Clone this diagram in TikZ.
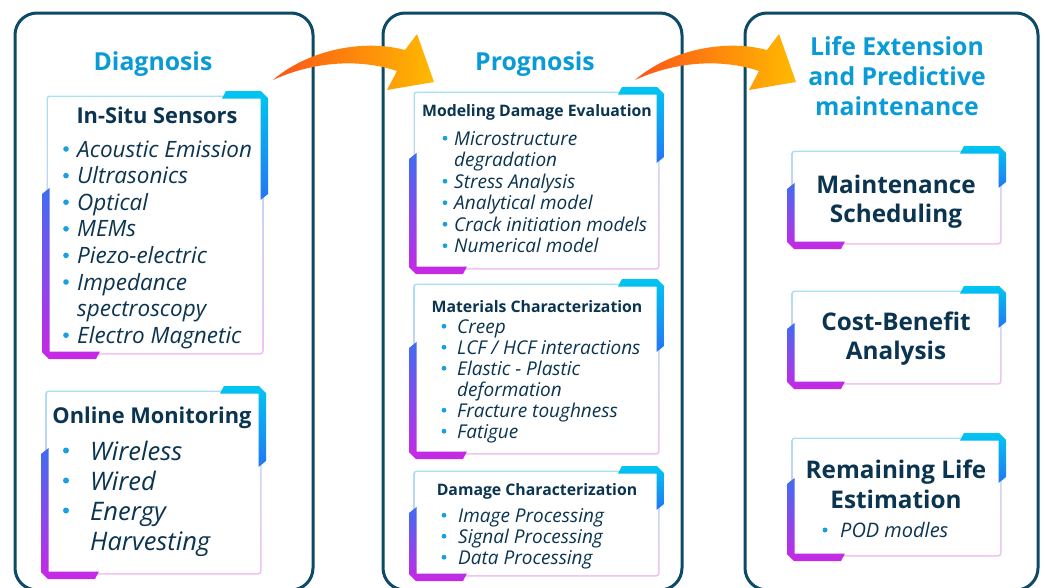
\documentclass[tikz,border=0pt]{standalone}
\usepackage{fontspec}
\setmainfont{Open Sans}

\definecolor{panelline}{RGB}{12,74,104}
\definecolor{headcyan}{RGB}{10,155,214}
\definecolor{inknavy}{RGB}{10,52,80}
\definecolor{dotblue}{RGB}{24,160,224}
\definecolor{accentcyan}{RGB}{0,198,242}
\definecolor{accentblue}{RGB}{34,118,244}
\definecolor{accentviolet}{RGB}{64,108,242}
\definecolor{accentmagenta}{RGB}{200,40,228}
\definecolor{framecyan}{RGB}{170,224,242}
\definecolor{framepink}{RGB}{242,190,242}
\definecolor{arrowred}{RGB}{252,84,24}
\definecolor{arrowyellow}{RGB}{255,186,0}

\tikzset{
  panel/.style={draw=panelline, line width=3pt, rounded corners=22pt},
  paneltitle/.style={font=\fontsize{24.8}{29}\selectfont\bfseries, text=headcyan, inner sep=0pt, anchor=base},
  boxhead/.style={font=\fontsize{#1}{#1}\selectfont\bfseries, text=inknavy, inner sep=0pt, anchor=base},
  entry/.style={font=\fontsize{#1}{#1}\selectfont\itshape, text=inknavy, inner sep=0pt, anchor=base west},
  flowarrow/.pic={
    \shade[left color=arrowred, right color=arrowyellow]
      (273,80) .. controls (305,52) and (360,38) .. (405,50)
      -- (417,34) -- (434,82) -- (387,90) -- (397,71)
      .. controls (358,58) and (312,62) .. (273,80) -- cycle;
  }
}

% #1 name, (#2,#3) top left, (#4,#5) bottom right,
% #6 length of the right bar, #7 length of the left bar
\newcommand\accentbox[7]{
  \shade[top color=framecyan, bottom color=framepink, rounded corners=3pt]
    (#2-1.5,#3-1.5) rectangle (#4+1.5,#5+1.5);
  \fill[white, rounded corners=2pt] (#2,#3) rectangle (#4,#5);
  \shade[top color=accentcyan, bottom color=accentblue]
    (#4-40,#3+1.5) -- (#4-36,#3-6) -- (#4-1,#3-6) -- (#4+6,#3+1)
    -- (#4+6,#3+#6-6) -- (#4-1.5,#3+#6) -- (#4-1.5,#3+1.5) -- cycle;
  \shade[top color=accentviolet, bottom color=accentmagenta]
    (#2+1.5,#5-#7) -- (#2-6,#5-#7+6) -- (#2-6,#5-1) -- (#2+1,#5+6)
    -- (#2+48,#5+6) -- (#2+52,#5-1.5) -- (#2+1.5,#5-1.5) -- cycle;
  \coordinate (#1) at ({(#2+#4)/2},{(#3+#5)/2});
}

\begin{document}
\begin{tikzpicture}[x=1pt,y=-1pt]
  \useasboundingbox (0,0) rectangle (1045,587);
  \clip (0,0) rectangle (1045,587);
  \fill[white] (0,0) rectangle (1045,587);

  \draw[panel] (15,13) rectangle (313,590);
  \draw[panel] (383,13) rectangle (682,590);
  \draw[panel] (745,13) rectangle (1038,590);

  \pic (toprognosis) at (0,0) {flowarrow};
  \pic (tolife) at (362,0) {flowarrow};

  \node[paneltitle] (diagnosis) at (153,70) {Diagnosis};
  \node[paneltitle] (prognosis) at (535,70) {Prognosis};
  \node[paneltitle] (lifeext1) at (897,55) {Life Extension};
  \node[paneltitle] (lifeext2) at (897,85) {and Predictive};
  \node[paneltitle] (lifeext3) at (897,115) {maintenance};

  \accentbox{insitu}{48}{97}{262}{353}{103}{165}
  \accentbox{online}{47}{392}{260}{573}{75}{125}
  \accentbox{modeling}{415}{93}{658}{268}{70}{115}
  \accentbox{materials}{415}{285}{658}{453}{67}{111}
  \accentbox{damage}{415}{472}{658}{575}{38}{68}
  \accentbox{schedule}{793}{152}{1000}{243}{36}{60}
  \accentbox{costben}{793}{292}{1000}{383}{36}{60}
  \accentbox{remlife}{793}{439}{1000}{555}{44}{77}

  % diagnosis
  \node[boxhead=21.8] (insituhead) at (157,123) {In-Situ Sensors};
  \foreach \t [count=\i] in {Acoustic Emission, Ultrasonics, Optical, MEMs,
      Piezo-electric, Impedance, spectroscopy, Electro Magnetic}
    \node[entry=22.5] (insitu\i) at (77,{157+26.6*(\i-1)}) {\t};
  \foreach \i in {1,...,6,8}
    \fill[dotblue] (66,{149+26.6*(\i-1)}) circle (2.8);

  \node[boxhead=21.8] (onlinehead) at (152,423) {Online Monitoring};
  \foreach \t [count=\i] in {Wireless, Wired, Energy, Harvesting}
    \node[entry=25.5] (online\i) at (90,{460+30*(\i-1)}) {\t};
  \foreach \i in {1,2,3}
    \fill[dotblue] (66,{450.5+30*(\i-1)}) circle (3);

  % prognosis
  \node[boxhead=15.8] (modelinghead) at (537,116) {Modeling Damage Evaluation};
  \foreach \t [count=\i] in {Microstructure, degradation, Stress Analysis,
      Analytical model, Crack initiation models, Numerical model}
    \node[entry=19] (modeling\i) at (454,{145+21.5*(\i-1)}) {\t};
  \foreach \i in {1,3,4,5,6}
    \fill[dotblue] (445,{138.2+21.5*(\i-1)}) circle (2.4);

  \node[boxhead=15.8] (materialshead) at (537,312) {Materials Characterization};
  \foreach \t [count=\i] in {Creep, LCF / HCF interactions, Elastic - Plastic,
      deformation, Fracture toughness, Fatigue}
    \node[entry=19] (materials\i) at (457,{333+21*(\i-1)}) {\t};
  \foreach \i in {1,2,3,5,6}
    \fill[dotblue] (444,{326.2+21*(\i-1)}) circle (2.4);

  \node[boxhead=15.8] (damagehead) at (537,495) {Damage Characterization};
  \foreach \t [count=\i] in {Image Processing, Signal Processing, Data Processing}
    \node[entry=19] (damage\i) at (458,{522+21*(\i-1)}) {\t};
  \foreach \i in {1,2,3}
    \fill[dotblue] (444,{515.2+21*(\i-1)}) circle (2.4);

  % life extension
  \node[boxhead=24.3] (schedule1) at (896,193) {Maintenance};
  \node[boxhead=24.3] (schedule2) at (896,222) {Scheduling};
  \node[boxhead=24.3] (costben1) at (896,330) {Cost-Benefit};
  \node[boxhead=24.3] (costben2) at (896,359) {Analysis};
  \node[boxhead=24.3] (remlife1) at (896,478) {Remaining Life};
  \node[boxhead=24.3] (remlife2) at (896,508) {Estimation};
  \fill[dotblue] (825,530) circle (2.5);
  \node[entry=20] (pod) at (840,537) {POD modles};
\end{tikzpicture}
\end{document}
